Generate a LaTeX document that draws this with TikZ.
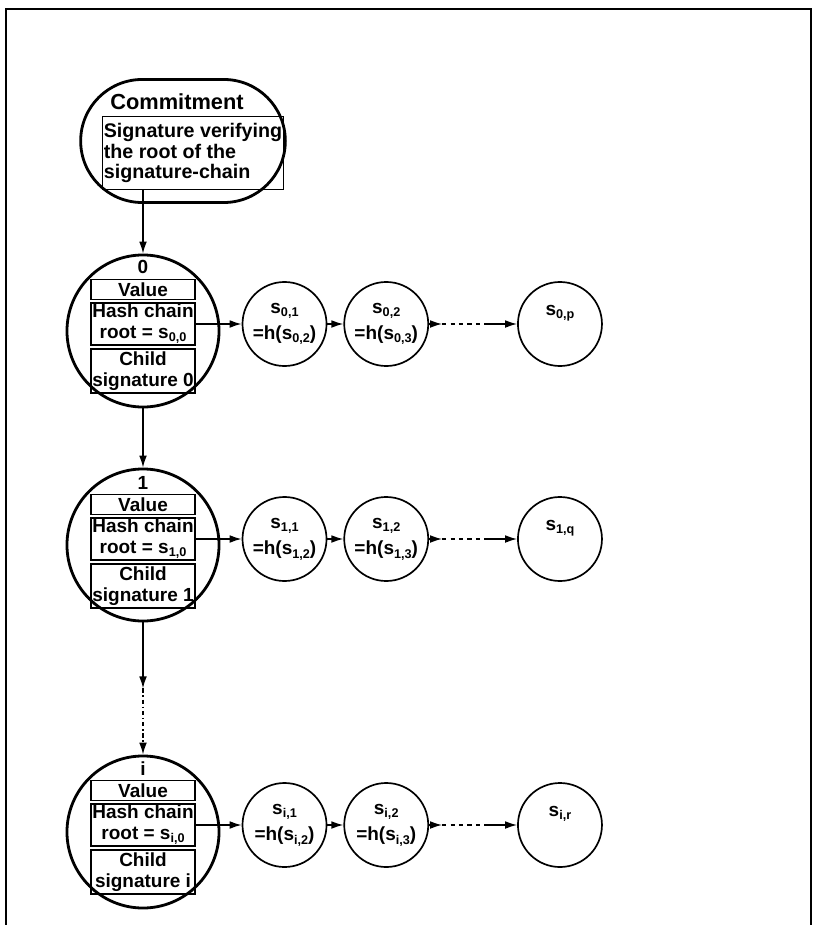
\documentclass[tikz,border=0pt]{standalone}
\usepackage{fontspec}
\setmainfont{Liberation Sans}
\usepackage{tikz}
\usetikzlibrary{positioning,shapes.misc,arrows.meta}

% s with a small index
\newcommand{\sx}[1]{s\raisebox{-0.3ex}{\fontsize{9}{9}\selectfont #1}}

\tikzset{
  txt/.style={font=\bfseries\fontsize{13.5}{15}\selectfont},
  rootcirc/.style={circle, draw, line width=2pt, minimum size=3.8cm, inner sep=0pt},
  linkcirc/.style={circle, draw, line width=1.2pt, minimum size=2.1cm, inner sep=0pt,
    align=center, font=\bfseries\fontsize{13.5}{19}\selectfont},
  field/.style={draw, line width=0.9pt, txt, minimum width=2.6cm, inner sep=0.5pt, align=center},
  arr/.style={-{Latex[length=8.5pt,width=5.5pt]}, line width=1pt},
}

\begin{document}
\begin{tikzpicture}[x=0.025cm, y=-0.025cm]
\useasboundingbox (0,0) rectangle (815,925);
\draw[line width=1.4pt] (6,925) -- (6,9) -- (811,9) -- (811,925);

% commitment
\node[rounded rectangle, draw, line width=2pt, minimum width=5.35cm, minimum height=3.075cm] (commit) at (183,141) {};
\node[font=\bfseries\fontsize{15.5}{17}\selectfont] (committitle) at (177,102) {Commitment};
\node[draw, line width=0.9pt, font=\bfseries\fontsize{14}{14.8}\selectfont,
  align=left, inner sep=1pt, minimum width=4.525cm, minimum height=1.825cm] (sigbox) at (193,153)
  {Signature verifying\\the root of the\\signature-chain};

% chain 0
\node[rootcirc] (c0) at (143,331) {};
\node[field, minimum height=1.05cm] (hash0) at (143,324) {Hash chain\\root = \sx{0,0}};
\node[field, minimum height=0.5cm, above=1.4pt of hash0] (val0) {Value};
\node[field, minimum height=1.1cm, below=2pt of hash0] (child0) {Child\\signature 0};
\node[txt, above=0pt of val0] (idx0) {0};

\node[linkcirc, right=1.15cm of hash0] (s01) {\sx{0,1}\\=h(\sx{0,2})};
\node[linkcirc, right=0.4cm of s01] (s02) {\sx{0,2}\\=h(\sx{0,3})};
\node[linkcirc, right=2.2cm of s02] (s0p) {\sx{0,p}\\\mbox{}};

% chain 1
\node[rootcirc] (c1) at (143,545) {};
\node[field, minimum height=1.05cm] (hash1) at (143,539) {Hash chain\\root = \sx{1,0}};
\node[field, minimum height=0.5cm, above=1.4pt of hash1] (val1) {Value};
\node[field, minimum height=1.1cm, below=2pt of hash1] (child1) {Child\\signature 1};
\node[txt, above=0pt of val1] (idx1) {1};

\node[linkcirc, right=1.15cm of hash1] (s11) {\sx{1,1}\\=h(\sx{1,2})};
\node[linkcirc, right=0.4cm of s11] (s12) {\sx{1,2}\\=h(\sx{1,3})};
\node[linkcirc, right=2.2cm of s12] (s1q) {\sx{1,q}\\\mbox{}};

% chain i
\node[rootcirc] (ci) at (143,832) {};
\node[field, minimum height=1.05cm] (hashi) at (143,825) {Hash chain\\root = \sx{i,0}};
\node[field, minimum height=0.5cm, above=1.4pt of hashi] (vali) {Value};
\node[field, minimum height=1.1cm, below=2pt of hashi] (childi) {Child\\signature i};
\node[txt, above=0pt of vali] (idxi) {i};

\node[linkcirc, right=1.15cm of hashi] (si1) {\sx{i,1}\\=h(\sx{i,2})};
\node[linkcirc, right=0.4cm of si1] (si2) {\sx{i,2}\\=h(\sx{i,3})};
\node[linkcirc, right=2.2cm of si2] (sir) {\sx{i,r}\\\mbox{}};

% down the chain
\draw[arr] (sigbox.south -| c0.north) -- (c0.north);
\draw[arr] (c0) -- (c1);
\draw[arr] (c1.south) -- ++(0,66) coordinate (gap1);
\draw[arr, dash dot] (gap1) -- (ci.north);

% hash chains
\draw[arr] (hash0) -- (s01);
\draw[arr] (s01) -- (s02);
\draw[arr] (s02.east) -- ++(13,0) coordinate (dots0a);
\draw[line width=1pt, dash pattern=on 3pt off 3pt] (dots0a) -- ++(46,0) coordinate (dots0b);
\draw[arr] (dots0b) -- (s0p);

\draw[arr] (hash1) -- (s11);
\draw[arr] (s11) -- (s12);
\draw[arr] (s12.east) -- ++(13,0) coordinate (dots1a);
\draw[line width=1pt, dash pattern=on 3pt off 3pt] (dots1a) -- ++(46,0) coordinate (dots1b);
\draw[arr] (dots1b) -- (s1q);

\draw[arr] (hashi) -- (si1);
\draw[arr] (si1) -- (si2);
\draw[arr] (si2.east) -- ++(13,0) coordinate (dotsia);
\draw[line width=1pt, dash pattern=on 3pt off 3pt] (dotsia) -- ++(46,0) coordinate (dotsib);
\draw[arr] (dotsib) -- (sir);
\end{tikzpicture}
\end{document}
